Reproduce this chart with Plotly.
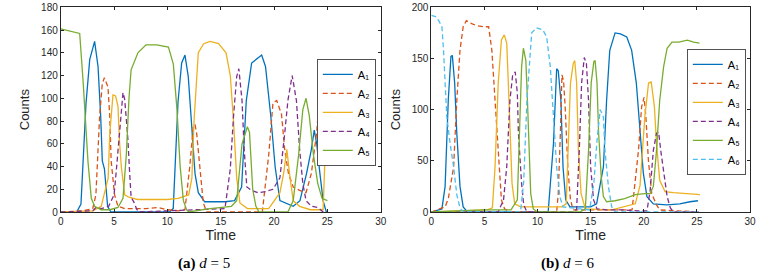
import plotly.graph_objects as go

# ---------------- data: panel (a) d = 5 ----------------
a_A1_t = [0, 1.5, 1.9, 2.15, 2.37, 2.72, 3.03, 3.18, 3.5, 3.75, 3.9, 4.1, 4.4, 4.7, 5.5, 10.2, 10.55, 11.0, 11.34, 11.65, 11.96, 12.27, 12.59, 12.9, 13.5, 15.4, 16.3, 16.96, 17.4, 17.9, 18.4, 18.84, 19.2, 19.7, 20.1, 20.55, 21.8, 22.43, 23.05, 23.5, 23.77, 24.0, 24.3, 24.6, 24.9, 25.0]
a_A1 = [0, 0, 7, 50, 95, 134, 146, 150, 128, 84, 45, 38, 5, 0, 0, 0, 3, 97, 131, 138, 119, 75, 34, 17, 9, 9, 10, 22, 98, 131, 135, 138, 128, 84, 40, 10, 5, 10, 34, 55, 72, 60, 34, 10, 0, 0]

a_A2_t = [0, 2.0, 3.0, 3.3, 3.65, 3.9, 4.1, 4.25, 4.43, 4.6, 4.73, 5.05, 5.37, 6.0, 8.0, 9.1, 10.0, 11.0, 11.65, 12.1, 12.43, 12.59, 12.75, 13.06, 13.37, 13.68, 18.9, 19.5, 19.9, 20.25, 20.7, 21.0, 21.35, 21.8, 22.4, 23.0, 23.5, 24.0, 24.3, 24.46, 24.7, 24.95]
a_A2 = [0, 1, 3, 15, 84, 113, 118, 115, 110, 84, 45, 15, 5, 3, 3, 4, 2, 1, 2, 40, 75, 77, 69, 38, 8, 0, 0, 50, 96, 98, 86, 55, 34, 22, 19, 17, 34, 70, 107, 113, 98, 60]

a_A3_t = [0, 3.0, 3.8, 4.26, 4.45, 4.6, 4.9, 5.15, 5.37, 5.5, 5.68, 6.0, 6.4, 7.2, 10.0, 11.0, 12.0, 12.3, 12.5, 12.9, 13.4, 14.0, 14.8, 15.5, 15.9, 16.2, 16.5, 16.8, 17.5, 19.5, 20.0, 20.55, 20.9, 21.2, 21.5, 21.8, 22.4, 23.4, 24.6, 24.77, 24.93]
a_A3 = [0, 1, 5, 22, 30, 69, 103, 102, 93, 64, 40, 15, 13, 11, 11, 12, 15, 30, 80, 140, 148, 150, 148, 140, 120, 80, 30, 8, 3, 3, 10, 17, 34, 55, 30, 10, 5, 2, 2, 40, 88]

a_A4_t = [0, 3.0, 3.3, 3.8, 4.5, 5.0, 5.2, 5.5, 5.84, 6.0, 6.3, 6.46, 6.6, 6.9, 7.1, 7.3, 15.4, 15.9, 16.2, 16.5, 16.7, 17.0, 17.2, 17.45, 17.9, 18.5, 19.2, 19.9, 20.55, 21.0, 21.3, 21.7, 22.1, 22.4, 22.7, 23.0, 23.5, 24.1, 24.6, 25.0]
a_A4 = [0, 1, 4, 3, 5, 15, 35, 69, 105, 99, 64, 35, 13, 8, 3, 0, 3, 38, 84, 119, 126, 98, 55, 22, 19, 17, 18, 20, 30, 69, 98, 120, 98, 55, 25, 10, 5, 4, 0, 0]

a_A5_t = [0, 0.5, 1.0, 1.5, 1.78, 2.1, 2.56, 2.87, 3.18, 3.8, 4.6, 5.37, 5.84, 6.15, 6.4, 6.6, 7.24, 8.0, 9.0, 10.1, 10.56, 10.9, 11.2, 11.5, 11.8, 12.0, 14.0, 16.0, 16.5, 17.0, 17.3, 17.5, 17.7, 18.0, 18.3, 18.6, 21.3, 21.8, 22.3, 22.7, 23.0, 23.3, 23.7, 24.1, 24.5, 25.0]
a_A5 = [161, 160, 159, 158, 157, 115, 44, 12, 5, 2, 2, 4, 12, 50, 100, 125, 140, 147, 147, 145, 130, 90, 40, 10, 2, 0, 3, 5, 10, 60, 70, 75, 70, 20, 5, 0, 0, 10, 50, 90, 100, 85, 50, 25, 12, 10]

# ---------------- data: panel (b) d = 6 ----------------
b_A1_t = [0, 1.0, 1.3, 1.6, 1.85, 1.98, 2.2, 2.4, 2.7, 3.0, 3.4, 11.0, 11.5, 11.8, 11.95, 12.2, 12.4, 12.65, 13.05, 15.0, 15.56, 16.2, 16.5, 16.8, 17.3, 17.8, 18.4, 18.86, 19.3, 19.7, 19.96, 20.3, 20.9, 22.15, 23.4, 24.35, 25.1]
b_A1 = [0, 3, 25, 110, 152, 153, 126, 77, 25, 5, 0, 0, 67, 140, 138, 109, 44, 12, 5, 5, 8, 44, 109, 158, 175, 174, 171, 158, 126, 77, 38, 15, 8, 7, 8, 10, 11]

b_A2_t = [0, 1.3, 1.6, 2.1, 2.4, 2.7, 3.0, 3.3, 3.8, 4.3, 4.9, 5.4, 5.7, 6.0, 6.3, 6.6, 6.9, 7.5, 11.8, 11.95, 12.15, 12.3, 12.45, 12.6, 12.85, 13.1, 13.35, 18.9, 19.5, 19.8, 20.03, 20.2, 20.44, 20.75, 21.2, 21.5, 25.2]
b_A2 = [0, 5, 13, 44, 109, 158, 181, 187, 184, 182, 181, 181, 158, 109, 51, 12, 3, 0, 0, 18, 77, 134, 128, 103, 44, 12, 2, 2, 60, 103, 112, 93, 50, 18, 7, 2, 0]

b_A3_t = [0, 5.27, 5.75, 6.0, 6.3, 6.6, 6.87, 7.1, 7.25, 7.4, 7.6, 7.85, 8.4, 10.1, 12.3, 12.7, 12.9, 13.1, 13.36, 13.5, 13.68, 13.85, 14.1, 14.5, 17.0, 18.2, 19.2, 19.65, 20.1, 20.45, 20.7, 21.0, 21.2, 21.5, 22.0, 22.8, 24.1, 25.3]
b_A3 = [0, 2, 4, 44, 126, 168, 173, 165, 126, 77, 28, 8, 5, 5, 5, 8, 77, 126, 145, 148, 126, 60, 18, 3, 2, 5, 8, 26, 93, 126, 127, 103, 67, 31, 20, 19, 18, 17]

b_A4_t = [0, 6.3, 6.8, 7.1, 7.4, 7.65, 7.9, 8.1, 8.2, 8.5, 8.7, 9.0, 13.5, 13.68, 13.93, 14.15, 14.4, 14.6, 14.8, 15.0, 15.27, 15.6, 16.5, 18.0, 19.5, 20.3, 20.6, 20.9, 21.2, 21.4, 21.6, 21.87, 22.2, 22.5, 22.8, 25.2]
b_A4 = [0, 0, 12, 44, 109, 133, 137, 116, 77, 28, 7, 0, 0, 3, 60, 126, 151, 145, 109, 44, 12, 3, 2, 2, 1, 1, 21, 60, 77, 78, 60, 38, 15, 4, 0, 0]

b_A5_t = [0, 3.0, 5.0, 7.5, 8.1, 8.3, 8.5, 8.67, 8.9, 9.05, 9.2, 9.36, 9.6, 10.0, 14.0, 14.5, 14.8, 15.05, 15.3, 15.42, 15.6, 15.75, 16.0, 16.2, 16.5, 17.3, 18.2, 19.2, 20.1, 20.6, 20.9, 21.2, 21.5, 21.87, 22.2, 22.65, 23.3, 24.1, 24.7, 25.25]
b_A5 = [0, 1, 2, 2, 12, 77, 142, 160, 148, 109, 60, 18, 3, 0, 0, 3, 60, 126, 147, 148, 126, 77, 34, 15, 10, 11, 13, 17, 18, 18, 25, 60, 109, 142, 160, 166, 166, 168, 166, 165]

b_A6_t = [0, 0.4, 0.7, 1.0, 1.15, 1.3, 1.46, 1.77, 2.1, 2.4, 2.7, 3.0, 8.4, 8.7, 9.0, 9.45, 9.9, 10.5, 10.86, 11.2, 11.5, 11.8, 12.1, 12.4, 14.9, 15.3, 15.6, 15.9, 16.2, 16.35, 16.67, 16.98, 17.3, 25.2]
b_A6 = [192, 191, 187, 181, 158, 126, 93, 67, 44, 17, 4, 0, 0, 30, 109, 175, 180, 178, 171, 142, 93, 44, 15, 5, 2, 28, 70, 100, 93, 60, 25, 5, 0, 0]

x_ticks = [0, 5, 10, 15, 20, 25, 30]
a_y_ticks = [0, 20, 40, 60, 80, 100, 120, 140, 160, 180]
b_y_ticks = [0, 50, 100, 150, 200]
names = ["A\u2081", "A\u2082", "A\u2083", "A\u2084", "A\u2085", "A\u2086"]
colors = ["#0072BD", "#D95319", "#EDB120", "#7E2F8E", "#77AC30", "#4DBEEE"]
dashes = ["solid", "5px,3px", "solid", "5px,3px", "solid", "5px,3px"]

panel_a = [(a_A1_t, a_A1), (a_A2_t, a_A2), (a_A3_t, a_A3), (a_A4_t, a_A4), (a_A5_t, a_A5)]
panel_b = [(b_A1_t, b_A1), (b_A2_t, b_A2), (b_A3_t, b_A3), (b_A4_t, b_A4), (b_A5_t, b_A5), (b_A6_t, b_A6)]

fig = go.Figure()
for i, (t, v) in enumerate(panel_a):
    fig.add_trace(go.Scatter(x=t, y=v, mode="lines", name=names[i],
                             line=dict(color=colors[i], width=1.3, dash=dashes[i]),
                             xaxis="x", yaxis="y", legend="legend"))
for i, (t, v) in enumerate(panel_b):
    fig.add_trace(go.Scatter(x=t, y=v, mode="lines", name=names[i],
                             line=dict(color=colors[i], width=1.3, dash=dashes[i]),
                             xaxis="x2", yaxis="y2", legend="legend2"))

W, H = 776, 277
axc = "#262626"
sans = "Liberation Sans, Arial, sans-serif"
tickfont = dict(family=sans, size=10, color=axc)
common = dict(showline=True, linecolor=axc, linewidth=0.8, mirror="ticks", ticks="inside",
              ticklen=3, tickcolor=axc, tickwidth=0.8, showgrid=False, zeroline=False,
              tickfont=tickfont, automargin=False)

ybot = (H - 212) / H
ytop = (H - 7.3) / H

legend_common = dict(bordercolor=axc, borderwidth=0.8, bgcolor="white",
                     font=dict(family=sans, size=11, color="black"),
                     tracegroupgap=0, itemwidth=30, xanchor="right", yanchor="top")

capfont = dict(family="Liberation Serif, Times New Roman, serif", size=15, color="black")

fig.update_layout(
    width=W, height=H, margin=dict(l=0, r=0, t=0, b=0, autoexpand=False),
    paper_bgcolor="white", plot_bgcolor="white",
    xaxis=dict(domain=[60.7 / W, 380.7 / W], range=[0, 30], tickvals=x_ticks, anchor="y",
               title=dict(text="Time", font=dict(family=sans, size=14, color=axc), standoff=3), **common),
    yaxis=dict(domain=[ybot, ytop], range=[0, 180], tickvals=a_y_ticks, anchor="x",
               title=dict(text="Counts", font=dict(family=sans, size=13, color=axc), standoff=8), **common),
    xaxis2=dict(domain=[431.3 / W, 750 / W], range=[0, 30], tickvals=x_ticks, anchor="y2",
                title=dict(text="Time", font=dict(family=sans, size=14, color=axc), standoff=3), **common),
    yaxis2=dict(domain=[ybot, ytop], range=[0, 200], tickvals=b_y_ticks, anchor="x2",
                title=dict(text="Counts", font=dict(family=sans, size=13, color=axc), standoff=8), **common),
    legend=dict(x=376 / W, y=(H - 59) / H, **legend_common),
    legend2=dict(x=746 / W, y=(H - 49) / H, **legend_common),
    showlegend=True,
    annotations=[
        dict(text="<b>(a)</b> <i>d</i> = 5", x=204 / W, y=(H - 263) / H, xref="paper", yref="paper",
             xanchor="center", yanchor="middle", showarrow=False, font=capfont),
        dict(text="<b>(b)</b> <i>d</i> = 6", x=568 / W, y=(H - 263) / H, xref="paper", yref="paper",
             xanchor="center", yanchor="middle", showarrow=False, font=capfont),
    ],
)

fig.write_html("out.html", config={"displayModeBar": False},
               post_script="document.body.style.margin='0px';")
